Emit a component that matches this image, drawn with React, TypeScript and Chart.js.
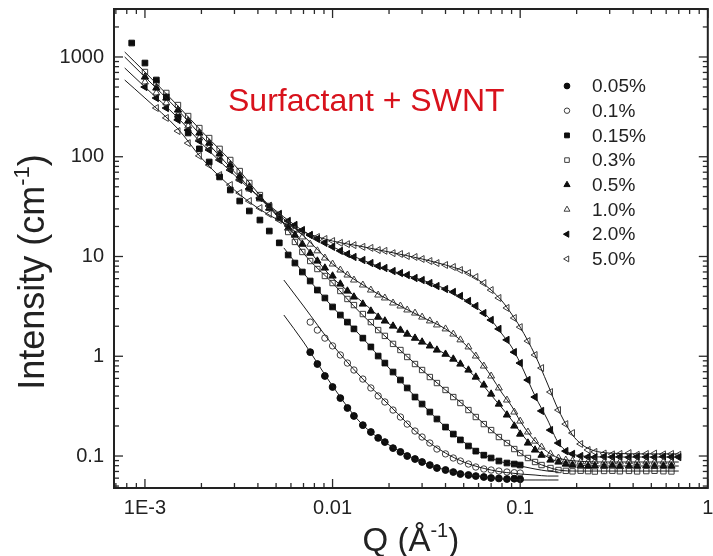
import React, { useEffect, useRef } from 'react';
import { Chart, registerables } from 'chart.js';

Chart.register(...registerables);

const _ = null;

// Q grid of the measured points (Å^-1)
const Q = [0.00085, 0.001, 0.00115, 0.0013, 0.0015, 0.0017, 0.00195, 0.0022, 0.0025, 0.00285,
  0.0032, 0.0036, 0.0041, 0.0046, 0.0052, 0.0058, 0.0063, 0.0069, 0.0076, 0.0083,
  0.0091, 0.01, 0.011, 0.012, 0.013, 0.0145, 0.016, 0.0175, 0.019, 0.021,
  0.023, 0.025, 0.0275, 0.03, 0.033, 0.036, 0.04, 0.044, 0.048, 0.053,
  0.058, 0.064, 0.07, 0.077, 0.085, 0.093, 0.1, 0.11, 0.12, 0.13,
  0.145, 0.16, 0.175, 0.19, 0.21, 0.23, 0.25, 0.28, 0.31, 0.34,
  0.38, 0.42, 0.47, 0.52, 0.58, 0.64, 0.7];

// Intensity (cm^-1) per concentration, aligned with Q
const I_005 = [_, _, _, _, _, _, _, _, _, _, _, _, _, _, _, _, _, _,
  1.10, 0.836, 0.634, 0.492, 0.381, 0.303, 0.252, 0.204, 0.174, 0.152, 0.138, 0.120, 0.110, 0.100,
  0.0933, 0.0871, 0.0812, 0.0758, 0.0724, 0.0691, 0.0660, 0.0645, 0.0630, 0.0616, 0.0602, 0.0596,
  0.0588, 0.0592, 0.0585];
const I_01 = [_, _, _, _, _, _, _, _, _, _, _, _, _, _, _, _, _, _,
  2.20, 1.83, 1.52, 1.27, 1.03, 0.855, 0.728, 0.591, 0.481, 0.400, 0.348, 0.289, 0.246, 0.209,
  0.178, 0.155, 0.135, 0.1175, 0.105, 0.0955, 0.0891, 0.0831, 0.0776, 0.0741, 0.0724, 0.0707,
  0.0691, 0.0680, 0.0675];
const I_015 = [1380, 870, 588, 397, 250, 173, 120, 88.6, 62.7, 46.4, 36.0, 28.6, 23.2, 18.0, 13.7,
  10.35, 8.6, 6.99, 5.68, 4.61, 3.84, 3.12, 2.59, 2.20, 1.88, 1.52, 1.24, 1.005, 0.855, 0.695,
  0.578, 0.481, 0.390, 0.332, 0.276, 0.235, 0.195, 0.166, 0.145, 0.126, 0.112, 0.102, 0.0955,
  0.0891, 0.0851, 0.0831, 0.0812];
const I_03 = [_, 707, 549, 436, 330, 256, 194, 154, 120, 92.8, 71.9, 54.6, 41.3, 32.1, 24.3, 17.6,
  14.0, 11.1, 9.01, 7.49, 6.38, 5.42, 4.51, 3.75, 3.26, 2.65, 2.20, 1.83, 1.60, 1.33, 1.155, 0.983,
  0.836, 0.728, 0.619, 0.539, 0.459, 0.390, 0.340, 0.289, 0.246, 0.209, 0.182, 0.155, 0.135,
  0.1175, 0.107, 0.0955, 0.0871, 0.0812, 0.0758, 0.0724, 0.0710, 0.0702, 0.0712, 0.0705, 0.0699,
  0.0708, 0.0712, 0.0703, 0.0709, 0.0701, 0.0706, 0.0711, 0.0704, 0.0700];
const I_05 = [_, 630, 489, 388, 294, 228, 173, 137, 107, 82.7, 64.1, 49.7, 38.6, 30.6, 24.3, 19.3,
  16.4, 13.3, 10.8, 9.01, 7.67, 6.38, 5.30, 4.51, 3.93, 3.34, 2.84, 2.47, 2.26, 2.01, 1.83, 1.67,
  1.52, 1.39, 1.27, 1.155, 1.05, 0.938, 0.836, 0.728, 0.619, 0.515, 0.418, 0.332, 0.258, 0.200,
  0.166, 0.135, 0.115, 0.102, 0.0912, 0.0871, 0.0831, 0.0812, 0.0798, 0.0790, 0.0796, 0.0792,
  0.0799, 0.0788, 0.0795, 0.0791, 0.0797, 0.0789, 0.0794, 0.0793];
const I_1 = [_, 562, 436, 346, 262, 203, 154, 125, 97.1, 77.1, 59.8, 47.5, 37.7, 30.6, 25.5, 21.2,
  18.4, 15.7, 13.3, 11.4, 9.66, 8.41, 7.32, 6.52, 5.81, 5.18, 4.61, 4.11, 3.84, 3.42, 3.19, 2.91,
  2.71, 2.47, 2.26, 2.06, 1.88, 1.67, 1.46, 1.24, 1.005, 0.798, 0.634, 0.481, 0.364, 0.276, 0.224,
  0.174, 0.141, 0.123, 0.105, 0.0955, 0.0912, 0.0891, 0.0875, 0.0868, 0.0879, 0.0866, 0.0873,
  0.0870, 0.0878, 0.0864, 0.0872, 0.0869, 0.0876, 0.0867];
const I_2 = [_, 500, 388, 308, 234, 185, 144, 117, 92.8, 73.6, 58.5, 47.5, 38.6, 32.1, 26.7, 22.7,
  20.7, 18.4, 16.4, 15.0, 13.7, 12.5, 11.4, 10.6, 9.89, 9.22, 8.6, 8.03, 7.67, 7.15, 6.83, 6.52,
  6.09, 5.81, 5.42, 5.06, 4.72, 4.41, 4.02, 3.58, 3.19, 2.71, 2.31, 1.88, 1.46, 1.10, 0.855, 0.578,
  0.390, 0.283, 0.182, 0.135, 0.112, 0.105, 0.100, 0.0980, 0.0972, 0.0985, 0.0976, 0.0981, 0.0970,
  0.0983, 0.0978, 0.0974, 0.0986, 0.0979, 0.0975];
const I_5 = [_, _, 308, 245, 181, 137, 102, 82.7, 65.6, 52.1, 43.3, 36.0, 30.6, 26.7, 23.2, 20.2,
  18.9, 17.6, 16.4, 15.7, 15.0, 14.3, 13.7, 13.3, 13.0, 12.5, 12.2, 11.6, 11.4, 10.8, 10.6, 10.1,
  9.89, 9.44, 9.01, 8.6, 8.22, 7.85, 7.32, 6.83, 6.23, 5.42, 4.61, 3.84, 3.05, 2.42, 1.96, 1.42,
  1.03, 0.762, 0.438, 0.289, 0.209, 0.170, 0.132, 0.115, 0.110, 0.106, 0.104, 0.105, 0.107, 0.103,
  0.105, 0.106, 0.104, 0.105, 0.103];

// Model fits (thin lines)
const FIT_Q = [0.00078, 0.001, 0.0015, 0.002, 0.003, 0.004, 0.0055, 0.007, 0.01, 0.014, 0.02, 0.03,
  0.04, 0.05, 0.06, 0.07, 0.08, 0.09, 0.1, 0.12, 0.14, 0.16, 0.2, 0.3, 0.5, 0.7];
const F_005 = [_, _, _, _, _, _, 2.59, 1.39, 0.503, 0.219, 0.129, 0.0871, 0.0724, 0.0660, 0.0630,
  0.0602, 0.0588, 0.0588, 0.0575, 0.0575, 0.0575, 0.0575];
const F_01 = [_, _, _, _, _, _, 5.81, 3.19, 1.30, 0.634, 0.325, 0.155, 0.107, 0.0871, 0.0776, 0.0724,
  0.0691, 0.0675, 0.0660, 0.0645, 0.0630, 0.0630];
const F_015 = [_, _, _, _, _, _, 12.2, 6.83, 3.12, 1.63, 0.762, 0.332, 0.195, 0.138, 0.110, 0.0955,
  0.0871, 0.0831, 0.0794, 0.0741, 0.0707, 0.0691];
const F_03 = [1122, 707, 323, 181, 82.7, 43.3, 21.2, 10.8, 5.42, 2.75, 1.46, 0.728, 0.459, 0.325,
  0.235, 0.182, 0.148, 0.126, 0.107, 0.0871, 0.0776, 0.0724, 0.0707, 0.0707, 0.0707, 0.0707];
const F_05 = [1000, 630, 294, 161, 70.3, 40.4, 21.7, 13.3, 6.09, 3.66, 2.11, 1.39, 1.05, 0.780, 0.578,
  0.409, 0.303, 0.230, 0.174, 0.1175, 0.0977, 0.0871, 0.0812, 0.0794, 0.0794, 0.0794];
const F_1 = [_, _, _, _, _, 39.5, 23.8, 16.1, 8.41, 5.42, 3.66, 2.47, 1.88, 1.36, 0.938, 0.634, 0.428,
  0.317, 0.224, 0.141, 0.110, 0.0955, 0.0891, 0.0871, 0.0871, 0.0871];
const F_2 = [776, 500, 245, 137, 65.6, 40.4, 24.9, 18.0, 12.5, 9.44, 7.32, 5.81, 4.72, 3.75, 2.98, 2.31,
  1.67, 1.24, 0.855, 0.400, 0.230, 0.135, 0.102, 0.0977, 0.0977, 0.0977];
const F_5 = [588, 388, 190, 97.1, 46.4, 30.6, 21.7, 17.6, 14.3, 12.7, 11.1, 9.44, 8.22, 7.15, 5.81,
  4.61, 3.58, 2.65, 1.96, 1.03, 0.527, 0.289, 0.145, 0.107, 0.105, 0.105];

const SERIES_LABELS = ['0.05%', '0.1%', '0.15%', '0.3%', '0.5%', '1.0%', '2.0%', '5.0%'];
const SERIES_VALUES = [I_005, I_01, I_015, I_03, I_05, I_1, I_2, I_5];
const FIT_VALUES = [F_005, F_01, F_015, F_03, F_05, F_1, F_2, F_5];

const X_TICKS = [0.001, 0.01, 0.1, 1];
const X_TICK_LABELS = ['1E-3', '0.01', '0.1', '1'];
const Y_TICKS = [0.1, 1, 10, 100, 1000];
const Y_TICK_LABELS = ['0.1', '1', '10', '100', '1000'];
const X_MIN = 6.84e-4;
const X_MAX = 1;
const Y_MIN = 0.0478;
const Y_MAX = 3027;

const TITLE = 'Surfactant + SWNT';
const FONT = "'Liberation Sans', Arial, Helvetica, sans-serif";

type Marker = { style: 'circle' | 'rect' | 'triangle'; filled: boolean; rot: number; r: number };
const MARKERS: Marker[] = [
  { style: 'circle', filled: true, rot: 0, r: 3.4 },
  { style: 'circle', filled: false, rot: 0, r: 3.2 },
  { style: 'rect', filled: true, rot: 0, r: 4 },
  { style: 'rect', filled: false, rot: 0, r: 3.8 },
  { style: 'triangle', filled: true, rot: 0, r: 4.2 },
  { style: 'triangle', filled: false, rot: 0, r: 4 },
  { style: 'triangle', filled: true, rot: -90, r: 4.2 },
  { style: 'triangle', filled: false, rot: -90, r: 4 },
];

const INK = '#0d0d0d';
const OPEN_INK = '#3c3c3c';

function toPoints(xs: number[], ys: (number | null)[]) {
  const out: { x: number; y: number }[] = [];
  xs.forEach((x, i) => {
    const y = ys[i];
    if (y !== null && y !== undefined) out.push({ x, y });
  });
  return out;
}

function drawMarker(ctx: CanvasRenderingContext2D, m: Marker, x: number, y: number, scale: number) {
  const r = m.r * scale;
  ctx.beginPath();
  if (m.style === 'circle') {
    ctx.arc(x, y, r, 0, Math.PI * 2);
  } else if (m.style === 'rect') {
    const s = r * Math.SQRT1_2;
    ctx.rect(x - s, y - s, 2 * s, 2 * s);
  } else {
    let rad = (m.rot * Math.PI) / 180;
    for (let k = 0; k < 3; k++) {
      const px = x + Math.sin(rad) * r;
      const py = y - Math.cos(rad) * r;
      if (k === 0) ctx.moveTo(px, py);
      else ctx.lineTo(px, py);
      rad += (2 * Math.PI) / 3;
    }
    ctx.closePath();
  }
  if (m.filled) {
    ctx.fillStyle = INK;
    ctx.fill();
  }
  ctx.lineWidth = 1;
  ctx.strokeStyle = m.filled ? INK : OPEN_INK;
  ctx.stroke();
}

function drawRich(ctx: CanvasRenderingContext2D, parts: [string, boolean][], cx: number, y: number, size: number) {
  const supSize = Math.round(size * 0.6);
  const widths = parts.map(([t, sup]) => {
    ctx.font = `${sup ? supSize : size}px ${FONT}`;
    return ctx.measureText(t).width;
  });
  const total = widths.reduce((s, w) => s + w, 0);
  let x = cx - total / 2;
  ctx.textAlign = 'left';
  ctx.textBaseline = 'alphabetic';
  parts.forEach(([t, sup], i) => {
    ctx.font = `${sup ? supSize : size}px ${FONT}`;
    ctx.fillText(t, x, sup ? y - size * 0.42 : y);
    x += widths[i];
  });
}

const decoPlugin = {
  id: 'deco',
  afterDraw(chart: any) {
    const { ctx, chartArea: a } = chart;
    const xs = chart.scales.x;
    const ys = chart.scales.y;
    ctx.save();
    const seg = (x1: number, y1: number, x2: number, y2: number) => {
      ctx.beginPath();
      ctx.moveTo(x1, y1);
      ctx.lineTo(x2, y2);
      ctx.stroke();
    };
    ctx.strokeStyle = '#2a2a2a';
    ctx.lineWidth = 1.3;
    for (let e = -4; e <= 0; e++) {
      for (let m = 1; m <= 9; m++) {
        const v = m * Math.pow(10, e);
        if (v < xs.min || v > xs.max * 1.0001) continue;
        const p = xs.getPixelForValue(v);
        const L = m === 1 ? 9 : 5;
        seg(p, a.bottom, p, a.bottom - L);
        seg(p, a.top, p, a.top + L);
      }
    }
    for (let e = -2; e <= 3; e++) {
      for (let m = 1; m <= 9; m++) {
        const v = m * Math.pow(10, e);
        if (v < ys.min || v > ys.max) continue;
        const p = ys.getPixelForValue(v);
        const L = m === 1 ? 9 : 5;
        seg(a.left, p, a.left + L, p);
        seg(a.right, p, a.right - L, p);
      }
    }
    ctx.lineWidth = 2;
    ctx.strokeStyle = '#222';
    ctx.strokeRect(a.left, a.top, a.right - a.left, a.bottom - a.top);

    // in-plot title
    ctx.font = `32px ${FONT}`;
    ctx.fillStyle = '#d8121c';
    ctx.textAlign = 'left';
    ctx.textBaseline = 'alphabetic';
    ctx.fillText(TITLE, 228, 111);

    // legend
    SERIES_LABELS.forEach((label, i) => {
      const y = 86 + i * 24.7;
      drawMarker(ctx, MARKERS[i], 567, y, 0.85);
      ctx.font = `19px ${FONT}`;
      ctx.fillStyle = '#222';
      ctx.textAlign = 'left';
      ctx.textBaseline = 'middle';
      ctx.fillText(label, 592, y + 1);
    });

    // axis titles
    ctx.fillStyle = '#222';
    drawRich(ctx, [['Q (Å', false], ['-1', true], [')', false]], (a.left + a.right) / 2, 551, 33);
    ctx.save();
    ctx.translate(44, 272);
    ctx.rotate(-Math.PI / 2);
    drawRich(ctx, [['Intensity (cm', false], ['-1', true], [')', false]], 0, 0, 36);
    ctx.restore();
    ctx.restore();
  },
};

function labelFor(ticks: number[], labels: string[], v: number) {
  const i = ticks.findIndex((t) => Math.abs(Math.log10(t) - Math.log10(v)) < 1e-6);
  return i >= 0 ? labels[i] : '';
}

export default function App() {
  const ref = useRef<HTMLCanvasElement>(null);

  useEffect(() => {
    const canvas = ref.current;
    if (!canvas) return;

    const dataSets: any[] = SERIES_VALUES.map((vals, i) => {
      const m = MARKERS[i];
      return {
        label: SERIES_LABELS[i],
        data: toPoints(Q, vals),
        showLine: false,
        pointStyle: m.style,
        pointRadius: m.r,
        pointRotation: m.rot,
        pointBackgroundColor: m.filled ? INK : 'rgba(0,0,0,0)',
        pointBorderColor: m.filled ? INK : OPEN_INK,
        pointBorderWidth: 1,
        order: 2,
      };
    });
    const fitSets: any[] = FIT_VALUES.map((vals, i) => ({
      label: SERIES_LABELS[i] + ' fit',
      data: toPoints(FIT_Q, vals),
      showLine: true,
      pointRadius: 0,
      borderColor: '#1a1a1a',
      borderWidth: 1,
      cubicInterpolationMode: 'monotone',
      fill: false,
      order: 1,
    }));

    const chart = new Chart(canvas, {
      type: 'scatter',
      data: { datasets: [...fitSets, ...dataSets] },
      options: {
        responsive: false,
        animation: false,
        devicePixelRatio: 1,
        events: [],
        layout: { padding: { left: 0, right: 5, top: 9, bottom: 0 } },
        plugins: { legend: { display: false }, tooltip: { enabled: false }, title: { display: false } },
        scales: {
          x: {
            type: 'logarithmic',
            position: 'bottom',
            min: X_MIN,
            max: X_MAX,
            grid: { display: false, drawTicks: false },
            border: { display: false },
            afterBuildTicks: (scale: any) => {
              scale.ticks = X_TICKS.map((v) => ({ value: v }));
            },
            afterFit: (scale: any) => {
              scale.height = 68;
              scale.paddingLeft = 0;
              scale.paddingRight = 0;
            },
            ticks: {
              autoSkip: false,
              maxRotation: 0,
              minRotation: 0,
              padding: 8,
              color: '#222',
              font: { family: FONT, size: 20 },
              callback: (v: any) => labelFor(X_TICKS, X_TICK_LABELS, Number(v)),
            },
          },
          y: {
            type: 'logarithmic',
            position: 'left',
            min: Y_MIN,
            max: Y_MAX,
            grid: { display: false, drawTicks: false },
            border: { display: false },
            afterBuildTicks: (scale: any) => {
              scale.ticks = Y_TICKS.map((v) => ({ value: v }));
            },
            afterFit: (scale: any) => {
              scale.width = 114;
              scale.paddingTop = 0;
              scale.paddingBottom = 0;
            },
            ticks: {
              autoSkip: false,
              padding: 10,
              color: '#222',
              font: { family: FONT, size: 20 },
              callback: (v: any) => labelFor(Y_TICKS, Y_TICK_LABELS, Number(v)),
            },
          },
        },
      },
      plugins: [decoPlugin],
    } as any);

    return () => chart.destroy();
  }, []);

  return (
    <div style={{ position: 'fixed', left: 0, top: 0, width: 713, height: 556, background: '#fff' }}>
      <canvas ref={ref} width={713} height={556} style={{ display: 'block', width: 713, height: 556 }} />
    </div>
  );
}
